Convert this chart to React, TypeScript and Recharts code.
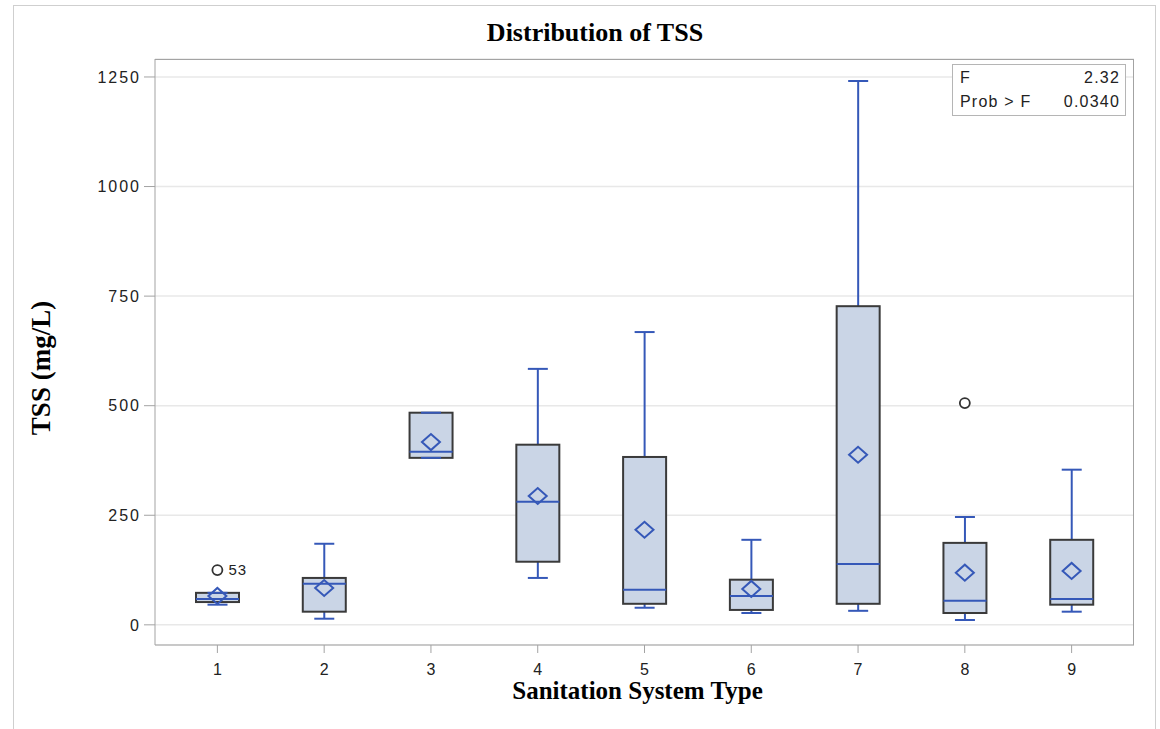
import { Bar, CartesianGrid, ComposedChart, Scatter, XAxis, YAxis } from "recharts";

// sanitation system type, one box per category
const categories = ["1", "2", "3", "4", "5", "6", "7", "8", "9"];
const whiskerLow = [46, 14, 381, 107, 39, 27, 32, 11, 30];
const q1 = [52, 30, 381, 144, 48, 34, 48, 27, 46];
const median = [59, 94, 395, 281, 80, 66, 139, 55, 59];
const q3 = [73, 107, 484, 411, 383, 103, 727, 187, 194];
const whiskerHigh = [73, 185, 484, 584, 668, 194, 1241, 246, 354];
const means = [66, 84, 417, 294, 217, 82, 388, 119, 123];
const outliers: (number | null)[] = [125, null, null, null, null, null, null, 506, null];
const outlierLabels = ["53", "", "", "", "", "", "", "", ""];
const yTicks = [0, 250, 500, 750, 1000, 1250];

const BLUE = "#3558b8";
const BOX_FILL = "#cad5e6";
const BOX_STROKE = "#3a3a3a";
const FRAME = "#a3a3a3";
const GRID = "#e8e8e8";
const SANS = "'Liberation Sans', Arial, sans-serif";
const SERIF = "'Liberation Serif', 'Times New Roman', serif";

const data = categories.map((cat, i) => ({
  cat,
  range: [whiskerLow[i], whiskerHigh[i]],
  lo: whiskerLow[i],
  q1: q1[i],
  med: median[i],
  q3: q3[i],
  hi: whiskerHigh[i],
  mean: means[i],
  outlier: outliers[i],
  outlierLabel: outlierLabels[i]
}));

function BoxShape(props: any) {
  const { x, y, width, height } = props;
  const p = props.payload ?? props;
  const { lo, hi } = p;
  // map a value to pixels inside the bar that spans [lo, hi]
  const py = (v: number) => (hi === lo ? y : y + (height * (hi - v)) / (hi - lo));
  const cx = x + width / 2;
  const cap = 10;
  return (
    <g>
      <line x1={cx} x2={cx} y1={py(hi)} y2={py(p.q3)} stroke={BLUE} strokeWidth={2} />
      <line x1={cx} x2={cx} y1={py(p.q1)} y2={py(lo)} stroke={BLUE} strokeWidth={2} />
      <rect
        x={x}
        y={py(p.q3)}
        width={width}
        height={py(p.q1) - py(p.q3)}
        fill={BOX_FILL}
        stroke={BOX_STROKE}
        strokeWidth={2}
      />
      <line x1={x} x2={x + width} y1={py(p.med)} y2={py(p.med)} stroke={BLUE} strokeWidth={2} />
      <line x1={cx - cap} x2={cx + cap} y1={py(hi)} y2={py(hi)} stroke={BLUE} strokeWidth={2} />
      <line x1={cx - cap} x2={cx + cap} y1={py(lo)} y2={py(lo)} stroke={BLUE} strokeWidth={2} />
    </g>
  );
}

function MeanShape(props: any) {
  const { cx, cy } = props;
  if (cx == null || cy == null) return <g />;
  return (
    <polygon
      points={`${cx - 9},${cy} ${cx},${cy - 8} ${cx + 9},${cy} ${cx},${cy + 8}`}
      fill="none"
      stroke={BLUE}
      strokeWidth={2}
    />
  );
}

function OutlierShape(props: any) {
  const { cx, cy, payload } = props;
  if (!payload || payload.outlier == null || cx == null || cy == null) return <g />;
  return (
    <g>
      <circle cx={cx} cy={cy} r={5} fill="#fff" stroke="#333" strokeWidth={1.8} />
      {payload.outlierLabel ? (
        <text x={cx + 11} y={cy + 5} fontSize={15} fontFamily={SANS} fill="#222" letterSpacing={1}>
          {payload.outlierLabel}
        </text>
      ) : null}
    </g>
  );
}

export default function App() {
  return (
    <div
      style={{
        position: "absolute",
        left: 0,
        top: 0,
        width: 1160,
        height: 729,
        background: "#fff",
        overflow: "hidden"
      }}
    >
      <div
        style={{
          position: "absolute",
          left: 13,
          top: 5,
          width: 1141,
          height: 730,
          borderTop: "1px solid #cfcfcf",
          borderLeft: "1px solid #cfcfcf",
          borderRight: "1px solid #cfcfcf"
        }}
      />
      <div
        style={{
          position: "absolute",
          left: 595,
          top: 20,
          transform: "translateX(-50%)",
          fontFamily: SERIF,
          fontWeight: 700,
          fontSize: 26,
          lineHeight: "26px",
          whiteSpace: "nowrap",
          color: "#000"
        }}
      >
        Distribution of TSS
      </div>
      <ComposedChart
        width={1160}
        height={729}
        data={data}
        margin={{ top: 59, right: 26, left: 20, bottom: 24 }}
        style={{ position: "absolute", left: 0, top: 0 }}
      >
        <CartesianGrid stroke={GRID} strokeWidth={1.5} vertical={false} />
        <XAxis
          dataKey="cat"
          type="category"
          padding={{ left: 9, right: 9 }}
          height={60}
          tickSize={8}
          tickMargin={11}
          axisLine={{ stroke: FRAME }}
          tickLine={{ stroke: FRAME }}
          tick={{ fill: "#222", fontSize: 16, fontFamily: SANS }}
          label={{
            value: "Sanitation System Type",
            position: "insideBottom",
            offset: 6,
            dx: -7,
            style: { fontFamily: SERIF, fontWeight: 700, fontSize: 25, fill: "#000" }
          }}
        />
        <YAxis
          type="number"
          domain={[-46, 1291]}
          ticks={yTicks}
          allowDataOverflow
          width={135}
          tickSize={11}
          tickMargin={3}
          axisLine={{ stroke: FRAME }}
          tickLine={{ stroke: FRAME }}
          tick={{ fill: "#222", fontSize: 16, fontFamily: SANS, letterSpacing: 2 }}
          label={{
            value: "TSS (mg/L)",
            angle: -90,
            position: "insideLeft",
            offset: 20,
            dy: 16,
            style: { fontFamily: SERIF, fontWeight: 700, fontSize: 27, fill: "#000", textAnchor: "middle" }
          }}
        />
        <Bar dataKey="range" barSize={43} shape={BoxShape} isAnimationActive={false} />
        <Scatter dataKey="mean" shape={MeanShape} isAnimationActive={false} />
        <Scatter dataKey="outlier" shape={OutlierShape} isAnimationActive={false} />
      </ComposedChart>
      {/* plot frame (top and right edges) */}
      <div
        style={{
          position: "absolute",
          left: 155,
          top: 59,
          width: 979,
          height: 586,
          boxSizing: "border-box",
          borderTop: `1px solid ${FRAME}`,
          borderRight: `1px solid ${FRAME}`,
          pointerEvents: "none"
        }}
      />
      <div
        style={{
          position: "absolute",
          left: 952,
          top: 64,
          width: 174,
          height: 52,
          boxSizing: "border-box",
          border: "1px solid #b5b5b5",
          background: "#fff",
          padding: "1px 5px 0 7px",
          fontFamily: SANS,
          fontSize: 16,
          letterSpacing: 1.2,
          color: "#222",
          lineHeight: "24px"
        }}
      >
        <div style={{ display: "flex", justifyContent: "space-between" }}>
          <span>F</span>
          <span>2.32</span>
        </div>
        <div style={{ display: "flex", justifyContent: "space-between" }}>
          <span>Prob &gt; F</span>
          <span>0.0340</span>
        </div>
      </div>
    </div>
  );
}
